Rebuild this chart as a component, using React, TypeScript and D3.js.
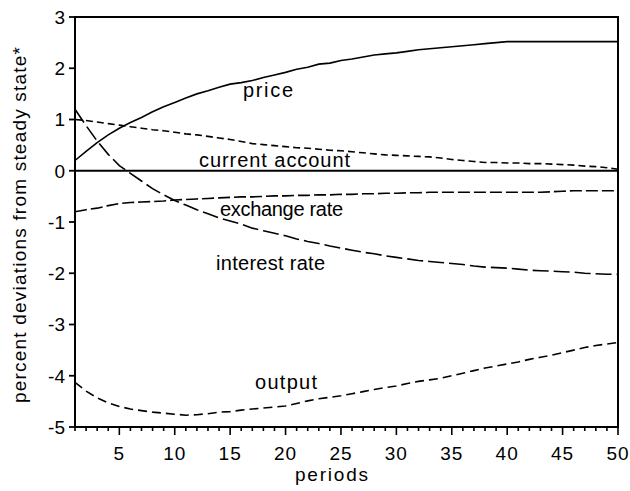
import React from "react";
import * as d3 from "d3";

const periods = [1,2,3,4,5,6,7,8,9,10,11,12,13,14,15,16,17,18,19,20,21,22,23,24,25,26,27,28,29,30,31,32,33,34,35,36,37,38,39,40,41,42,43,44,45,46,47,48,49,50];

const price = [0.2,0.38,0.55,0.7,0.83,0.94,1.04,1.15,1.25,1.33,1.42,1.5,1.56,1.63,1.69,1.72,1.76,1.82,1.87,1.92,1.98,2.02,2.08,2.1,2.15,2.18,2.22,2.26,2.28,2.3,2.33,2.36,2.38,2.4,2.42,2.44,2.46,2.48,2.5,2.52,2.52,2.52,2.52,2.52,2.52,2.52,2.52,2.52,2.52,2.52];

const currentAccount = [1.0,0.98,0.95,0.92,0.89,0.86,0.83,0.8,0.78,0.75,0.72,0.7,0.67,0.64,0.61,0.57,0.53,0.51,0.49,0.47,0.45,0.44,0.42,0.4,0.39,0.37,0.35,0.33,0.31,0.3,0.29,0.28,0.27,0.25,0.22,0.2,0.18,0.16,0.16,0.15,0.15,0.14,0.14,0.13,0.12,0.11,0.09,0.08,0.06,0.03];

const exchangeRate = [-0.8,-0.76,-0.73,-0.68,-0.64,-0.62,-0.61,-0.6,-0.59,-0.57,-0.56,-0.55,-0.54,-0.53,-0.52,-0.51,-0.51,-0.5,-0.49,-0.49,-0.48,-0.48,-0.47,-0.47,-0.46,-0.46,-0.45,-0.45,-0.44,-0.44,-0.43,-0.43,-0.42,-0.42,-0.42,-0.42,-0.42,-0.42,-0.42,-0.42,-0.42,-0.42,-0.42,-0.41,-0.4,-0.39,-0.39,-0.39,-0.39,-0.39];

const interestRate = [1.2,0.88,0.58,0.32,0.1,-0.05,-0.2,-0.35,-0.47,-0.58,-0.67,-0.76,-0.84,-0.92,-0.98,-1.04,-1.12,-1.17,-1.22,-1.27,-1.33,-1.38,-1.42,-1.47,-1.51,-1.55,-1.59,-1.62,-1.66,-1.69,-1.72,-1.75,-1.77,-1.79,-1.81,-1.83,-1.86,-1.88,-1.89,-1.9,-1.92,-1.94,-1.95,-1.96,-1.97,-1.98,-2.0,-2.01,-2.02,-2.02];

const output = [-4.13,-4.3,-4.43,-4.53,-4.6,-4.65,-4.68,-4.71,-4.73,-4.75,-4.77,-4.76,-4.74,-4.71,-4.7,-4.67,-4.65,-4.63,-4.61,-4.59,-4.54,-4.49,-4.45,-4.42,-4.39,-4.35,-4.31,-4.27,-4.23,-4.2,-4.15,-4.11,-4.08,-4.05,-4.0,-3.95,-3.9,-3.85,-3.81,-3.77,-3.73,-3.68,-3.64,-3.6,-3.55,-3.5,-3.45,-3.41,-3.38,-3.35];

const yTicks = [3,2,1,0,-1,-2,-3,-4,-5];
const xMajorTicks = [5,10,15,20,25,30,35,40,45,50];

const seriesNames = ["price","current account","exchange rate","interest rate","output"];

const W = 630, H = 491;
const L = 75, R = 618, T = 17, B = 427;
const FONT = "'Liberation Sans', Arial, sans-serif";

export default function App() {
  const x = d3.scaleLinear().domain([1, 50]).range([L, R]);
  const y = d3.scaleLinear().domain([-5, 3]).range([B, T]);
  const line = (vals: number[]) =>
    d3.line<number>().x((_, i) => x(periods[i])).y((v) => y(v))(vals) || "";

  const series = [
    { vals: price, dash: "none" },
    { vals: currentAccount, dash: "7,4" },
    { vals: exchangeRate, dash: "12,4" },
    { vals: interestRate, dash: "16,5" },
    { vals: output, dash: "9,5" },
  ];

  const labels = [
    { name: seriesNames[0], x: 243, y: 97, len: 50 },
    { name: seriesNames[1], x: 199, y: 167, len: 151 },
    { name: seriesNames[2], x: 220, y: 216, len: 123 },
    { name: seriesNames[3], x: 216, y: 270, len: 109 },
    { name: seriesNames[4], x: 255, y: 389, len: 62 },
  ];

  return (
    <svg width={W} height={H} style={{ position: "absolute", left: 0, top: 0, background: "#fff" }} fontFamily={FONT}>
      <rect x={0} y={0} width={W} height={H} fill="#fff" />
      <line x1={L} x2={R} y1={y(0)} y2={y(0)} stroke="#000" strokeWidth={1.8} />
      {series.map((s, i) => (
        <path key={i} d={line(s.vals)} fill="none" stroke="#000" strokeWidth={1.6} strokeDasharray={s.dash} />
      ))}
      <rect x={L} y={T} width={R - L} height={B - T} fill="none" stroke="#000" strokeWidth={2} />
      {yTicks.map((t) => (
        <g key={t}>
          <line x1={L - 6} x2={L} y1={y(t)} y2={y(t)} stroke="#000" strokeWidth={1.8} />
          <text x={65} y={y(t)} dy="0.36em" textAnchor="end" fontSize={19}>{t}</text>
        </g>
      ))}
      {periods.map((p) => {
        const major = xMajorTicks.includes(p);
        return <line key={p} x1={x(p)} x2={x(p)} y1={B} y2={B + (major ? 8 : 4)} stroke="#000" strokeWidth={1.6} />;
      })}
      {xMajorTicks.map((t) => (
        <text key={t} x={x(t)} y={460} textAnchor="middle" fontSize={19} letterSpacing={1}>{t}</text>
      ))}
      {labels.map((l) => (
        <text key={l.name} x={l.x} y={l.y} fontSize={20} textLength={l.len} lengthAdjust="spacing">{l.name}</text>
      ))}
      <text x={295} y={481} fontSize={19} textLength={73} lengthAdjust="spacing">periods</text>
      <text transform={`translate(26, ${225}) rotate(-90)`} textAnchor="middle" fontSize={19} textLength={356} lengthAdjust="spacing">percent deviations from steady state*</text>
    </svg>
  );
}
